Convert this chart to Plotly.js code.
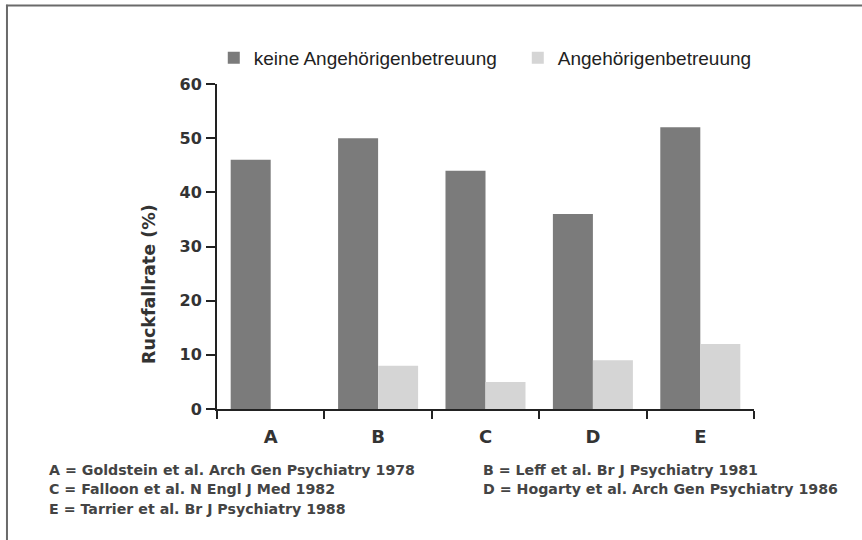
<!DOCTYPE html>
<html>
<head>
<meta charset="utf-8">
<script src="https://cdn.plot.ly/plotly-3.0.1.min.js"></script>
<style>
html,body{margin:0;padding:0;background:#fff;overflow:hidden;width:862px;height:540px;}
#chart{position:absolute;left:0;top:0;width:862px;height:540px;}
</style>
</head>
<body>
<div id="chart"></div>
<script>
const categories = ["A", "B", "C", "D", "E"];
const seriesNames = ["keine Angehörigenbetreuung", "Angehörigenbetreuung"];
const keineValues = [46, 50, 44, 36, 52];
const mitValues = [0, 8, 5, 9, 12];
const yTickValues = [0, 10, 20, 30, 40, 50, 60];
const yTitle = "Ruckfallrate (%)";
const footnotesLeft = [
  "A = Goldstein et al. Arch Gen Psychiatry 1978",
  "C = Falloon et al. N Engl J Med 1982",
  "E = Tarrier et al. Br J Psychiatry 1988"
];
const footnotesRight = [
  "B = Leff et al. Br J Psychiatry 1981",
  "D = Hogarty et al. Arch Gen Psychiatry 1986"
];

const traces = [
  {type: "bar", x: categories, y: keineValues, name: seriesNames[0],
   marker: {color: "#7b7b7b"}, hoverinfo: "x+y"},
  {type: "bar", x: categories, y: mitValues, name: seriesNames[1],
   marker: {color: "#d5d5d5"}, hoverinfo: "x+y"}
];

const boldFam = "DejaVu Sans, Arial, sans-serif";
const footFont = {family: boldFam, size: 14.2, color: "#444", weight: "bold"};
const annotations = [];
footnotesLeft.forEach((t, i) => annotations.push({
  text: t, xref: "paper", yref: "paper", x: -0.317, y: -0.187 - i * 0.06,
  xanchor: "left", yanchor: "middle", showarrow: false, font: footFont
}));
footnotesRight.forEach((t, i) => annotations.push({
  text: t, xref: "paper", yref: "paper", x: 0.491, y: -0.187 - i * 0.06,
  xanchor: "left", yanchor: "middle", showarrow: false, font: footFont
}));
annotations.push({
  text: yTitle, xref: "paper", yref: "paper", x: -0.127, y: 0.384,
  xanchor: "center", yanchor: "middle", textangle: -90, showarrow: false,
  font: {family: boldFam, size: 17.5, color: "#333", weight: "bold"}
});

const frameLine = {color: "#6a6a6a", width: 2};
const shapes = [
  {type: "line", xref: "paper", yref: "paper", x0: -0.393, x1: 1.3, y0: 1.2415, y1: 1.2415, line: frameLine},
  {type: "line", xref: "paper", yref: "paper", x0: -0.3911, x1: -0.3911, y0: 1.244, y1: -0.45, line: frameLine}
];

const layout = {
  width: 862, height: 540,
  margin: {l: 217, r: 108, t: 84, b: 131, pad: 0},
  paper_bgcolor: "#fff", plot_bgcolor: "#fff",
  barmode: "group", bargap: 0.255, bargroupgap: 0,
  showlegend: true,
  legend: {orientation: "h", x: -0.006, y: 1.08, xanchor: "left", yanchor: "middle",
    font: {family: "Liberation Sans Narrow, Arial Narrow, sans-serif", size: 19, color: "#222"},
    entrywidth: 259, entrywidthmode: "pixels", itemclick: false, bgcolor: "rgba(0,0,0,0)"},
  xaxis: {type: "category", showline: true, linecolor: "#222", linewidth: 2,
    ticks: "outside", tickson: "boundaries", ticklen: 8, tickwidth: 2, tickcolor: "#222",
    showgrid: false, zeroline: false, ticklabelstandoff: 10,
    tickfont: {family: boldFam, size: 18, color: "#333", weight: "bold"}},
  yaxis: {range: [0, 60], tickvals: yTickValues, showline: true, linecolor: "#222", linewidth: 2,
    ticks: "outside", ticklen: 9, tickwidth: 2, tickcolor: "#222",
    showgrid: false, zeroline: false, ticklabelstandoff: 1,
    tickfont: {family: boldFam, size: 16, color: "#333", weight: "bold"}},
  shapes: shapes,
  annotations: annotations
};

Plotly.newPlot("chart", traces, layout, {displayModeBar: false, staticPlot: true});
</script>
</body>
</html>
